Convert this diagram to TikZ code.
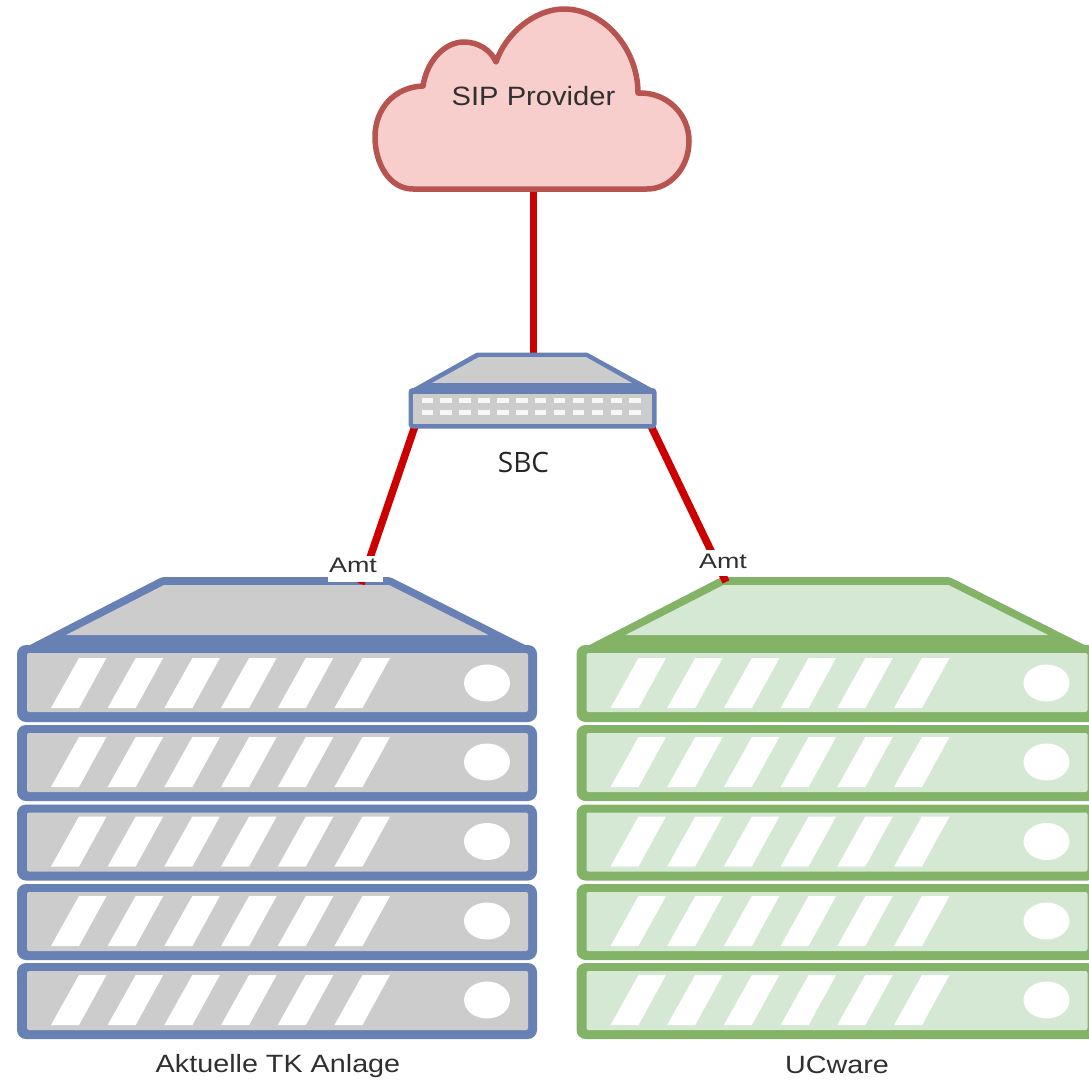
\documentclass[tikz,border=0pt]{standalone}
\usepackage{fontspec}
\setmainfont{Liberation Sans}
\newfontfamily\sbcfont{Open Sans}
\newcommand{\lbl}[3]{\fontsize{#1}{#1}\selectfont\scalebox{#2}[1]{#3}}
\tikzset{
  wire/.style={draw=wirered,line width=7pt},
  slantwire/.style={draw=wirered,line width=7.5pt},
  caption/.style={inner sep=0pt,text=txt},
}
\definecolor{wirered}{HTML}{CC0000}
\definecolor{txt}{HTML}{303030}
\definecolor{bluel}{HTML}{6781B5}
\definecolor{greyf}{HTML}{CCCCCC}
\definecolor{greenl}{HTML}{82B366}
\definecolor{greenf}{HTML}{D5E8D4}
\definecolor{redl}{HTML}{B85450}
\definecolor{redf}{HTML}{F8CECC}
% #1 x shift, #2 line colour, #3 fill colour
\newcommand{\serverstack}[3]{%
\begin{scope}[shift={(#1,0)}]
  \fill[#2,rounded corners=2pt] (26,647) -- (162,577) -- (390,577) -- (529,647) -- cycle;
  \fill[#3] (164,585) -- (389,585) -- (488.5,635) -- (66,635) -- cycle;
  \foreach \t/\b in {645/722,725/801,804.5/880.5,884/960,963/1039}{
    \fill[#2,rounded corners=9pt] (17,\t) rectangle (537,\b);
  }
  \foreach \t/\b/\st in {653/712/658,733/792/737,812.5/871.5/816.5,892/951/896,971/1030/975}{
    \fill[#3,rounded corners=2pt] (27,\t) rectangle (528,\b);
    \foreach \i in {0,...,5}{
      \fill[white] ({51+56.7*\i},\st+50) -- ({79+56.7*\i},\st) -- ({106.5+56.7*\i},\st) -- ({79+56.7*\i},\st+50) -- cycle;
    }
    \fill[white] (487,\st+25) ellipse [x radius=23,y radius=18.5];
  }
\end{scope}}
\begin{document}
\begin{tikzpicture}[x=1pt,y=-1pt]
\clip (0,0) rectangle (1089,1079);
\fill[white] (0,0) rectangle (1089,1079);
% anchors of the connectors
\coordinate (cloudbase) at (533.5,188);
\coordinate (sbctop) at (533.5,355);
\coordinate (sbcleft) at (415,426);
\coordinate (sbcright) at (651,426);
\coordinate (tkroof) at (361,584);
\coordinate (ucroof) at (726,582);
% servers
\serverstack{0}{bluel}{greyf}
\serverstack{559.5}{greenl}{greenf}
% connectors
\draw[wire] (cloudbase) -- (sbctop);
\draw[slantwire] (sbcleft) -- (tkroof);
\draw[slantwire] (sbcright) -- (ucroof);
% cloud
\draw[draw=redl,fill=redf,line width=5.5pt,line join=round]
  (413,189) .. controls (389,189) and (375,163) .. (375,137)
  .. controls (375,108) and (395,87) .. (423,86)
  .. controls (427,60) and (445,42) .. (464,42)
  .. controls (478,42) and (491,50) .. (496,62)
  .. controls (506,33) and (535,9) .. (564,9)
  .. controls (603,9) and (638,48) .. (638,93)
  .. controls (668,92) and (689,115) .. (689,141)
  .. controls (689,168) and (670,189) .. (647,189)
  -- cycle;
% SBC
\fill[bluel,rounded corners=1pt] (410,390) -- (477,352.5) -- (587,352.5) -- (655,390) -- cycle;
\fill[greyf] (479,357) -- (586,357) -- (632,383) -- (432,383) -- cycle;
\fill[bluel,rounded corners=4pt] (408.5,388) rectangle (656.5,428.5);
\fill[bluel] (425,383) rectangle (640,393.5);
\fill[greyf] (413,393.5) rectangle (652,424);
\foreach \i in {0,...,11}{
  \fill[white!94!gray] ({421.5+18.9*\i},397.5) rectangle ++(11.5,5);
  \fill[white!94!gray] ({421.5+18.9*\i},409.5) rectangle ++(11.5,5);
}
% label backgrounds
\fill[white] (328,555.5) rectangle (383,581.5);
\fill[white] (699,549.5) rectangle (748,576);
% labels
\node[caption] (provider) at (533.5,96) {\lbl{26.5}{1.1}{SIP Provider}};
\node[caption,text=black!85] (sbc) at (523.5,462) {\sbcfont\fontsize{28}{28}\selectfont SBC};
\node[caption] (amtl) at (353,565.5) {\lbl{21}{1.28}{Amt}};
\node[caption] (amtr) at (723,561) {\lbl{21}{1.28}{Amt}};
\node[caption] (tk) at (278,1066) {\lbl{25}{1.15}{Aktuelle TK Anlage}};
\node[caption] (uc) at (837,1065) {\lbl{25}{1.15}{UCware}};
\end{tikzpicture}
\end{document}
